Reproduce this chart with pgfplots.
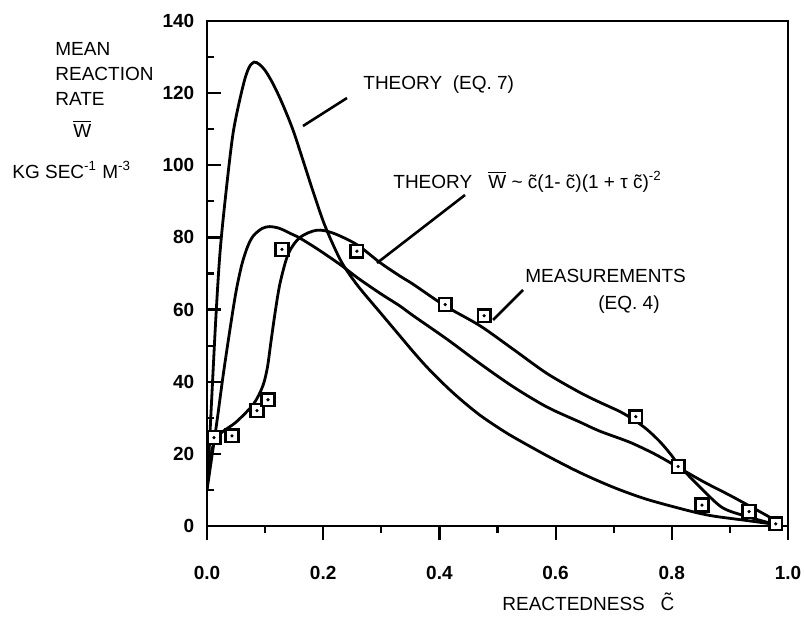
\documentclass[border=0pt]{standalone}
\usepackage{fontspec}
\setmainfont{Liberation Sans}
\usepackage{pgfplots}
\pgfplotsset{compat=1.18}
\begin{document}
\fontsize{9.5}{11}\selectfont
\begin{tikzpicture}
\path[use as bounding box] (0,0) rectangle (402.5pt,-310.5pt);
\begin{axis}[
  at={(103.5pt,-263pt)}, anchor=south west,
  scale only axis, width=290.5pt, height=252.5pt,
  xmin=0, xmax=1, ymin=0, ymax=140,
  axis line style={line width=1.2pt},
  xtick={0,0.2,0.4,0.6,0.8,1.0}, xticklabels={0.0,0.2,0.4,0.6,0.8,1.0},
  minor xtick={0.1,0.3,0.5,0.7,0.9},
  ytick={0,20,40,60,80,100,120,140}, yticklabels={0,20,40,60,80,100,120,140},
  minor ytick={10,30,50,70,90,110,130},
  tick pos=left,
  xtick align=outside, ytick align=inside,
  major tick length=7pt, minor tick length=3.5pt,
  every tick/.style={line width=1.1pt, black},
  ticklabel style={font=\fontsize{9.5}{11}\selectfont\bfseries},
  xticklabel style={yshift=-9.5pt},
  yticklabel style={xshift=-3pt},
]
% Theory (Eq. 7)
\addplot[smooth, tension=0.5, line width=1.4pt] coordinates {
(0,10) (0.004,22) (0.008,35) (0.015,57) (0.022,75) (0.031,90) (0.045,109)
(0.062,122) (0.072,127) (0.081,128.6) (0.09,128) (0.1,126.3) (0.114,122.5)
(0.13,117) (0.148,109.8) (0.165,101.5) (0.18,94) (0.2,84.5) (0.217,78) (0.234,72.5)
(0.26,66.5) (0.298,59.2) (0.332,52.7) (0.355,48.3) (0.38,43.8) (0.413,38.5) (0.44,34.6)
(0.47,30.7) (0.5,27.4) (0.527,24.7) (0.585,19.5) (0.642,14.8) (0.70,10.7) (0.757,7.4)
(0.83,4.2) (0.87,2.8) (0.93,1.5) (0.98,0.4)
};
% Theory W ~ c(1-c)(1+tau c)^-2
\addplot[smooth, tension=0.5, line width=1.4pt] coordinates {
(0,10) (0.01,21) (0.018,30) (0.028,42) (0.04,55) (0.05,65) (0.06,72.5) (0.07,77.5)
(0.08,80.5) (0.095,82.5) (0.108,83) (0.125,82.5) (0.145,81) (0.16,79.8) (0.19,76.8)
(0.229,72.5) (0.26,68.7) (0.298,64.5) (0.332,61) (0.355,58.3) (0.413,51.8) (0.47,45)
(0.527,38.6) (0.585,33) (0.642,28.8) (0.676,26.3) (0.728,23.2) (0.77,20) (0.80,17.3)
(0.83,14.5) (0.86,11.8) (0.90,8.5) (0.94,5) (0.97,2.3) (0.98,1.2)
};
% Measurements fit (Eq. 4)
\addplot[smooth, tension=0.5, line width=1.4pt] coordinates {
(0,13) (0.01,22) (0.022,25.5) (0.05,28.8) (0.08,33.8) (0.096,38.8) (0.104,44) (0.11,51)
(0.118,60) (0.126,67.5) (0.14,75.5) (0.16,80) (0.189,82) (0.217,81.2) (0.258,78)
(0.298,73) (0.332,69.3) (0.355,67) (0.41,61) (0.47,55.5) (0.527,49) (0.585,42.3)
(0.642,37) (0.676,34.3) (0.711,31.7) (0.734,29.5) (0.757,26.8) (0.78,23.3) (0.80,19.5)
(0.814,16.5) (0.854,9.9) (0.888,5) (0.93,2.6) (0.974,0.6)
};
% Measurements
\addplot[only marks, mark=square*, mark size=3.2pt, mark options={fill=white, draw=black, line width=1.2pt}] coordinates {
(0.012,24.5) (0.043,25) (0.086,32) (0.105,35) (0.129,76.7) (0.258,76.2) (0.41,61.4)
(0.477,58.3) (0.738,30.3) (0.811,16.5) (0.852,5.8) (0.933,4) (0.979,0.6)
};
\addplot[only marks, mark=*, mark size=0.6pt] coordinates {
(0.012,24.5) (0.043,25) (0.086,32) (0.105,35) (0.129,76.7) (0.258,76.2) (0.41,61.4)
(0.477,58.3) (0.738,30.3) (0.811,16.5) (0.852,5.8) (0.933,4) (0.979,0.6)
};
\end{axis}
\begin{scope}[x=0.5pt, y=-0.5pt, every node/.style={inner sep=0pt, anchor=base west}]
% left labels
\node at (55,55) {MEAN};
\node at (55,80) {REACTION};
\node at (55,105) {RATE};
\node at (73,137) {$\overline{\mbox{W}}$};
\node at (12,178) {KG SEC\textsuperscript{-1} M\textsuperscript{-3}};
% annotations
\node at (363,90) {THEORY\ \ (EQ. 7)};
\draw[line width=1.3pt] (347,98) -- (303,126);
\node at (393,188) {THEORY};
\node at (488,188) {$\overline{\mbox{W}}$ \~{}\ \~{c}(1- \~{c})(1 + τ \~{c})\textsuperscript{-2}};
\draw[line width=1.3pt] (465,195) -- (377,263);
\node at (525,282) {MEASUREMENTS};
\node at (598,309) {(EQ. 4)};
\draw[line width=1.3pt] (523,290) -- (493,320);
% x label
\node at (502,610) {REACTEDNESS\ \ \ \~{C}};
\end{scope}
\end{tikzpicture}
\end{document}
